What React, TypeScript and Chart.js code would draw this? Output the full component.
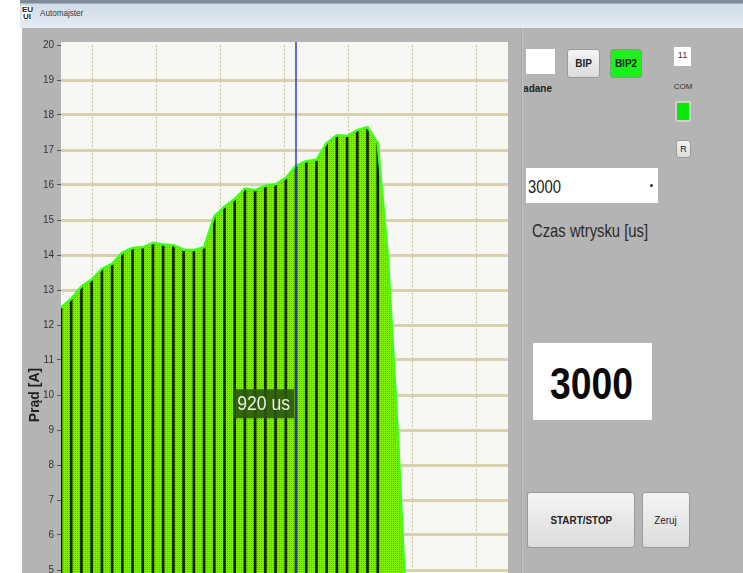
import React, { useEffect, useRef } from "react";
import { Chart, registerables } from "chart.js";

Chart.register(...registerables);

// ---- data ----
const sampleTimesUs = [
  0, 32, 64, 96, 128, 160, 192, 224, 256, 288, 320, 352, 384, 416, 448, 480, 512, 544,
  576, 608, 640, 672, 704, 736, 768, 800, 832, 864, 896, 928, 960, 992, 1024, 1056, 1088, 1120,
];
const currentA = [
  12.5, 12.75, 13.1, 13.3, 13.6, 13.75, 14.07, 14.2, 14.22, 14.35, 14.3, 14.28, 14.15, 14.14,
  14.22, 15.1, 15.38, 15.6, 15.9, 15.85, 15.98, 16.02, 16.2, 16.55, 16.68, 16.72, 17.2, 17.42,
  17.4, 17.57, 17.65, 17.2, 13.9, 8.7, 2.4, 0,
];
const lastMarkerUs = 992;
const gridTimesUs = [100, 300, 500, 700, 900, 1100, 1300];
const yTickValues = [0, 1, 2, 3, 4, 5, 6, 7, 8, 9, 10, 11, 12, 13, 14, 15, 16, 17, 18, 19, 20];
const cursorTimeUs = 736;
const cursorLabel = "920 us";
const cursorLabelLevelA = 9.75;
const yAxisTitle = "Prąd [A]";

const SANS = "'Liberation Sans', Arial, sans-serif";

function makePattern(): CanvasPattern | string {
  const c = document.createElement("canvas");
  c.width = 4;
  c.height = 4;
  const g = c.getContext("2d");
  if (!g) return "#70e000";
  g.fillStyle = "#7cee00";
  g.fillRect(0, 0, 4, 4);
  g.fillStyle = "#4aae00";
  g.fillRect(1, 1, 1, 1);
  g.fillRect(3, 3, 1, 1);
  g.fillStyle = "#64d200";
  g.fillRect(3, 1, 1, 1);
  g.fillRect(1, 3, 1, 1);
  const p = g.createPattern(c, "repeat");
  return p || "#70e000";
}

const plotBackground = {
  id: "plotBackground",
  beforeDraw(chart: any) {
    const { ctx, chartArea } = chart;
    ctx.save();
    ctx.fillStyle = "#f7f7f4";
    ctx.fillRect(chartArea.left, chartArea.top - 3, chartArea.right - chartArea.left, chartArea.bottom - chartArea.top + 3);
    ctx.restore();
  },
};

const cursorPlugin = {
  id: "cursorPlugin",
  afterDatasetsDraw(chart: any) {
    const { ctx, chartArea, scales } = chart;
    const x = scales.x.getPixelForValue(cursorTimeUs);
    const cy = scales.y.getPixelForValue(cursorLabelLevelA);
    const sx = 0.88;
    ctx.save();
    ctx.font = `20px ${SANS}`;
    const w = ctx.measureText(cursorLabel).width * sx;
    const bw = w + 8;
    const bh = 29;
    const bx = x - 2 - bw;
    ctx.fillStyle = "rgba(44,88,14,0.9)";
    ctx.fillRect(bx, cy - bh / 2, bw, bh);
    ctx.fillStyle = "#ecefe4";
    ctx.textBaseline = "middle";
    ctx.textAlign = "left";
    ctx.translate(bx + 4, cy + 1);
    ctx.scale(sx, 1);
    ctx.fillText(cursorLabel, 0, 0);
    ctx.restore();
    ctx.save();
    ctx.strokeStyle = "#3838d8";
    ctx.lineWidth = 1.5;
    ctx.beginPath();
    ctx.moveTo(x, chartArea.top - 3);
    ctx.lineTo(x, chartArea.bottom);
    ctx.stroke();
    ctx.restore();
  },
};

function CurrentChart() {
  const ref = useRef<HTMLCanvasElement | null>(null);
  useEffect(() => {
    if (!ref.current) return;
    const points = sampleTimesUs.map((t, i) => ({ x: t, y: currentA[i] }));
    const markers = points.filter((p) => p.x <= lastMarkerUs);
    const chart = new Chart(ref.current, {
      type: "line",
      data: {
        datasets: [
          {
            type: "line",
            data: points,
            borderColor: "#40ff18",
            borderWidth: 2.5,
            backgroundColor: makePattern() as any,
            fill: "origin",
            pointRadius: 0,
            tension: 0,
          } as any,
          {
            type: "bar",
            data: markers,
            backgroundColor: "#0c2002",
            barThickness: 2,
            borderWidth: 0,
          } as any,
        ],
      },
      options: {
        animation: false,
        responsive: false,
        maintainAspectRatio: false,
        layout: { padding: { top: 17, right: 0, left: 0, bottom: 0 } },
        plugins: {
          legend: { display: false },
          tooltip: { enabled: false },
          filler: { drawTime: "beforeDatasetsDraw" } as any,
        },
        scales: {
          x: {
            type: "linear",
            min: 0,
            max: 1400,
            offset: false,
            afterFit: (s: any) => {
              s.height = 25;
            },
            afterBuildTicks: (s: any) => {
              s.ticks = gridTimesUs.map((v) => ({ value: v }));
            },
            grid: { color: "#c9c197", lineWidth: 1, drawTicks: false, offset: false },
            border: { display: false, dash: [2, 2] },
            ticks: { color: "#333", font: { family: SANS, size: 10 } },
          },
          y: {
            type: "linear",
            min: 0,
            max: 20,
            afterFit: (s: any) => {
              s.width = 39;
            },
            afterBuildTicks: (s: any) => {
              s.ticks = yTickValues.map((v) => ({ value: v }));
            },
            grid: {
              color: (c: any) => (c.tick && (c.tick.value === 20 || c.tick.value === 0) ? "rgba(0,0,0,0)" : "#d7d1ae"),
              lineWidth: 3,
              tickColor: "#555",
              tickLength: 4,
              tickWidth: 1,
            },
            border: { display: false },
            ticks: {
              color: "#333",
              padding: 3,
              font: { family: SANS, size: 10 },
              callback: (v: any) => String(v),
            },
            title: {
              display: true,
              text: yAxisTitle,
              color: "#1e1e1e",
              font: { family: SANS, size: 14, weight: "bold" },
              padding: { top: 5, bottom: 0 },
            },
          },
        },
      },
      plugins: [plotBackground, cursorPlugin],
    });
    return () => chart.destroy();
  }, []);
  return <canvas ref={ref} width={486} height={742} style={{ width: 486, height: 742, display: "block" }} />;
}

function Txt(props: { left: number; top: number; size: number; sx: number; bold?: boolean; color?: string; children: React.ReactNode }) {
  return (
    <div
      style={{
        position: "absolute",
        left: props.left,
        top: props.top,
        fontFamily: SANS,
        fontSize: props.size,
        fontWeight: props.bold ? "bold" : "normal",
        color: props.color || "#222",
        whiteSpace: "nowrap",
        transform: `scaleX(${props.sx})`,
        transformOrigin: "left top",
        lineHeight: 1,
      }}
    >
      {props.children}
    </div>
  );
}

const btn: React.CSSProperties = {
  position: "absolute",
  boxSizing: "border-box",
  border: "1px solid #9a9a9a",
  borderRadius: 3,
  background: "linear-gradient(#f4f4f4, #dcdcdc)",
  display: "flex",
  alignItems: "center",
  justifyContent: "center",
  fontFamily: SANS,
  color: "#222",
  whiteSpace: "nowrap",
};

function Btn(props: { style: React.CSSProperties; sx: number; children: React.ReactNode }) {
  return (
    <div style={{ ...btn, ...props.style }}>
      <span style={{ display: "inline-block", transform: `scaleX(${props.sx})` }}>{props.children}</span>
    </div>
  );
}

export default function App() {
  return (
    <div style={{ position: "fixed", left: 0, top: 0, width: 743, height: 573, overflow: "hidden", background: "#fff" }}>
      {/* title bar */}
      <div
        style={{
          position: "absolute",
          left: 20,
          top: 0,
          width: 723,
          height: 28,
          background: "linear-gradient(to bottom, #7e8c9a 0px, #7e8c9a 3px, #cfdbe7 4px, #e4ebf2 100%)",
        }}
      />
      <div
        style={{
          position: "absolute",
          left: 22,
          top: 6,
          width: 10,
          height: 14,
          background: "#fff",
          fontFamily: SANS,
          fontSize: 8,
          fontWeight: "bold",
          lineHeight: "7px",
          color: "#222",
          textAlign: "center",
        }}
      >
        EU
        <br />
        UI
      </div>
      <Txt left={40} top={9} size={9} sx={0.9} color="#2c3a48">
        Automajster
      </Txt>
      {/* gray window body */}
      <div style={{ position: "absolute", left: 22, top: 28, width: 721, height: 545, background: "#b4b4b4" }} />
      <div style={{ position: "absolute", left: 22, top: 28 }}>
        <CurrentChart />
      </div>
      <div
        style={{
          position: "absolute",
          left: 521,
          top: 28,
          width: 2,
          height: 545,
          background: "linear-gradient(to right, #979797, #d2d2d2)",
        }}
      />
      {/* right panel */}
      <div style={{ position: "absolute", left: 526, top: 49, width: 29, height: 25, background: "#fff" }} />
      <Btn style={{ left: 567, top: 49, width: 33, height: 29, fontSize: 10, fontWeight: "bold" }} sx={1}>
        BIP
      </Btn>
      <Btn
        style={{
          left: 610,
          top: 49,
          width: 32,
          height: 29,
          fontSize: 10,
          fontWeight: "bold",
          background: "#1ef01e",
          border: "1px solid #7aa07a",
        }}
        sx={1}
      >
        BIP2
      </Btn>
      <div style={{ position: "absolute", left: 524, top: 82, width: 40, height: 16, overflow: "hidden" }}>
        <Txt left={-7} top={2} size={10} sx={1} bold>
          Zadane
        </Txt>
      </div>
      <div
        style={{
          position: "absolute",
          left: 674,
          top: 47,
          width: 17,
          height: 19,
          background: "#fff",
          fontFamily: SANS,
          fontSize: 9,
          textAlign: "center",
          lineHeight: "17px",
          color: "#333",
        }}
      >
        11
      </div>
      <div style={{ position: "absolute", left: 668, top: 82, width: 30, textAlign: "center", fontFamily: SANS, fontSize: 8, color: "#333" }}>
        COM
      </div>
      <div
        style={{
          position: "absolute",
          left: 675,
          top: 101,
          width: 16,
          height: 21,
          boxSizing: "border-box",
          background: "#08e808",
          border: "2px solid #cfcfcf",
          borderRadius: 2,
        }}
      />
      <Btn style={{ left: 676, top: 140, width: 15, height: 18, fontSize: 9 }} sx={1}>
        R
      </Btn>
      <div style={{ position: "absolute", left: 526, top: 168, width: 132, height: 35, background: "#fff" }}>
        <Txt left={2} top={9} size={19} sx={0.78}>
          3000
        </Txt>
        <div style={{ position: "absolute", left: 124, top: 16, width: 3, height: 3, background: "#333", borderRadius: 2 }} />
      </div>
      <Txt left={532} top={221} size={19} sx={0.78} color="#2a2a2a">
        Czas wtrysku [us]
      </Txt>
      <div style={{ position: "absolute", left: 533, top: 343, width: 119, height: 77, background: "#fff" }}>
        <Txt left={17} top={18} size={45} sx={0.83} bold color="#0a0a0a">
          3000
        </Txt>
      </div>
      <Btn style={{ left: 527, top: 492, width: 108, height: 56, fontSize: 11, fontWeight: "bold" }} sx={0.9}>
        START/STOP
      </Btn>
      <Btn style={{ left: 642, top: 492, width: 48, height: 56, fontSize: 11 }} sx={0.9}>
        Zeruj
      </Btn>
    </div>
  );
}
